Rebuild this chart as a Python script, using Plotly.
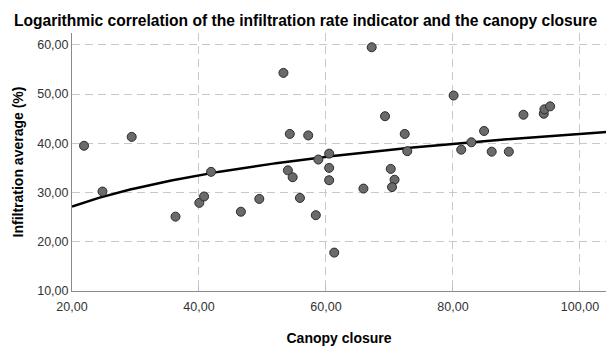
import numpy as np
import plotly.graph_objects as go

canopy = [21.9, 24.8, 29.4, 36.3, 40.05, 40.8, 41.9, 46.6, 49.5, 53.3, 54.0, 54.3, 54.75,
          55.9, 57.2, 58.4, 58.8, 60.5, 60.5, 60.5, 61.3, 67.2, 65.9, 69.3, 70.2, 70.8,
          70.4, 72.4, 72.8, 80.1, 81.3, 82.9, 84.9, 86.1, 88.8, 91.1, 94.3, 94.4, 95.3]
infiltration = [39.5, 30.2, 41.3, 25.1, 27.9, 29.2, 34.2, 26.1, 28.7, 54.3, 34.5, 41.9, 33.1,
                28.9, 41.6, 25.4, 36.7, 37.9, 35.0, 32.5, 17.8, 59.5, 30.8, 45.5, 34.8, 32.6,
                31.1, 41.9, 38.4, 49.7, 38.7, 40.2, 42.5, 38.3, 38.3, 45.8, 46.0, 46.9, 47.5]

x_ticks = [20, 40, 60, 80, 100]
y_ticks = [10, 20, 30, 40, 50, 60]

# logarithmic fit y = a + b*ln(x), computed from the data
b, a = np.polyfit(np.log(canopy), infiltration, 1)
x_fit = np.linspace(20, 104.1, 200)
y_fit = a + b * np.log(x_fit)

fig = go.Figure()
fig.add_trace(go.Scatter(
    x=x_fit, y=y_fit, mode="lines",
    line=dict(color="black", width=2.5), hoverinfo="skip"))
fig.add_trace(go.Scatter(
    x=canopy, y=infiltration, mode="markers",
    marker=dict(size=9, color="#6a6a6a", line=dict(color="#2b2b2b", width=1))))

font_family = "Liberation Sans, Arial, sans-serif"
fig.update_layout(
    width=611, height=349,
    margin=dict(l=72, r=5, t=33, b=54),
    paper_bgcolor="white", plot_bgcolor="white",
    showlegend=False,
    separators=",.",
    font=dict(family=font_family, size=12.5, color="#333333"),
    title=dict(text="<b>Logarithmic correlation of the infiltration rate indicator and the canopy closure</b>",
               x=0.5, xanchor="center", y=1 - 21 / 349, yanchor="middle",
               font=dict(size=15.6, color="black", family=font_family)),
)
fig.update_xaxes(
    range=[20, 104.1], tickvals=x_ticks, tickformat=".2f",
    showgrid=True, gridcolor="#c8c8c8", griddash="8px,5px", gridwidth=1,
    showline=True, linecolor="#8a8a8a", linewidth=1,
    ticks="inside", ticklen=5, tickcolor="#bbbbbb",
    ticklabelstandoff=4,
    zeroline=False,
    title=dict(text="<b>Canopy closure</b>", font=dict(size=14, color="black"), standoff=20),
)
fig.update_yaxes(
    range=[10, 62.4], tickvals=y_ticks, tickformat=".2f",
    showgrid=True, gridcolor="#c8c8c8", griddash="8px,5px", gridwidth=1,
    showline=True, linecolor="#8a8a8a", linewidth=1,
    ticks="", zeroline=False,
    title=dict(text="<b>Infiltration average (%)</b>", font=dict(size=14, color="black"), standoff=10),
)

fig.write_html("out.html")
